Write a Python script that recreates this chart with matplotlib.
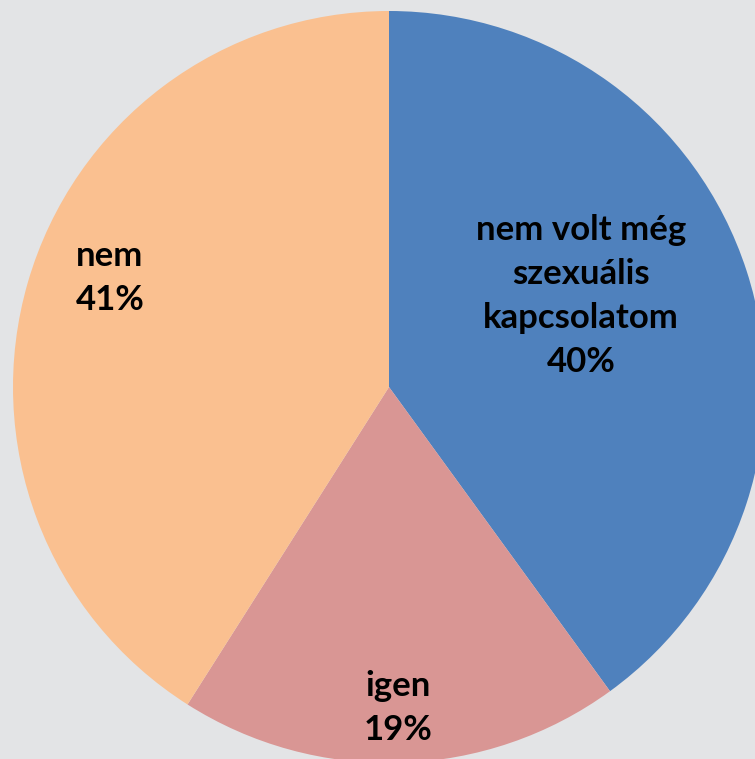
import matplotlib.pyplot as plt

# data
labels = ['nem volt még\nszexuális\nkapcsolatom', 'igen', 'nem']
values = [40, 19, 41]
colors = ['#4F81BD', '#D99694', '#FAC090']

# label anchor points in pixel coords (x, y from top)
label_pos = [(581, 296), (398, 708), (110, 278)]

W, H = 755, 759
fig = plt.figure(figsize=(W / 100, H / 100), dpi=100)
fig.patch.set_facecolor('#E3E4E6')
ax = fig.add_axes([0, 0, 1, 1])
ax.set_facecolor('#E3E4E6')

cx, cy, r = 389, H - 387, 376
ax.pie(values, colors=colors, startangle=90, counterclock=False,
       center=(cx, cy), radius=r, frame=True,
       wedgeprops=dict(linewidth=0))

for lab, v, (x, y) in zip(labels, values, label_pos):
    ax.text(x, H - y, f'{lab}\n{v}%', ha='center', va='center',
            fontsize=25, fontweight='bold', family='Lato',
            linespacing=1.45, color='black')

ax.set_xlim(0, W)
ax.set_ylim(0, H)
ax.set_aspect('equal')
ax.axis('off')

fig.savefig('out.png', dpi=100, facecolor=fig.get_facecolor())
